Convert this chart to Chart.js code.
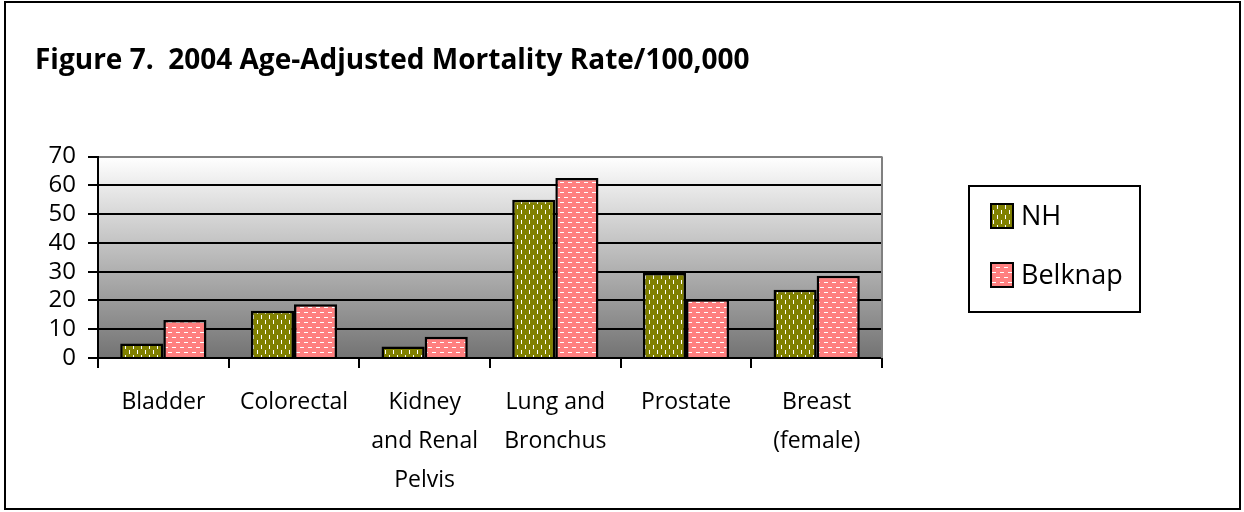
<!DOCTYPE html>
<html>
<head>
<meta charset="utf-8">
<script src="https://cdn.jsdelivr.net/npm/chart.js@4"></script>
<style>
  body { margin: 0; background: #fff; }
</style>
</head>
<body>
<canvas id="myChart" width="1244" height="512"></canvas>
<script>
// Chart Data
const categories = [
  "Bladder",
  "Colorectal",
  ["Kidney", "and Renal", "Pelvis"],
  ["Lung and", "Bronchus"],
  "Prostate",
  ["Breast", "(female)"]
];
const nhValues = [5, 16.4, 4, 55, 29.5, 23.7];
const belknapValues = [13.2, 18.7, 7.4, 62.6, 20.4, 28.6];
const yTicks = [0, 10, 20, 30, 40, 50, 60, 70];
const seriesNames = ["NH", "Belknap"];

const FONT = "'Open Sans', sans-serif";

// Fill patterns (dashes like the Excel hatch)
function makePattern(bg, vertical) {
  const c = document.createElement("canvas");
  c.width = 8;
  c.height = 10;
  const g = c.getContext("2d");
  g.fillStyle = bg;
  g.fillRect(0, 0, 8, 10);
  g.fillStyle = "#fff";
  if (vertical) {
    g.fillRect(1, 0, 1, 4);
    g.fillRect(5, 5, 1, 4);
  } else {
    g.fillRect(0, 2, 4, 1);
    g.fillRect(4, 7, 4, 1);
  }
  return g.createPattern(c, "repeat");
}
const nhFill = makePattern("#808000", true);
const belknapFill = makePattern("#ff8080", false);

// Background, frame and plot gradient
const backdrop = {
  id: "backdrop",
  beforeDraw(chart) {
    const { ctx, chartArea: a } = chart;
    ctx.save();
    ctx.fillStyle = "#fff";
    ctx.fillRect(0, 0, chart.width, chart.height);
    ctx.strokeStyle = "#000";
    ctx.lineWidth = 2;
    ctx.strokeRect(5, 2, 1235, 507);
    const grad = ctx.createLinearGradient(0, a.top, 0, a.bottom);
    grad.addColorStop(0, "#ffffff");
    grad.addColorStop(1, "#737373");
    ctx.fillStyle = grad;
    ctx.fillRect(a.left, a.top, a.right - a.left, a.bottom - a.top);
    ctx.restore();
  },
  beforeDatasetsDraw(chart) {
    const { ctx, chartArea: a } = chart;
    ctx.save();
    ctx.strokeStyle = "#808080";
    ctx.lineWidth = 2;
    ctx.beginPath();
    ctx.moveTo(a.right, a.top);
    ctx.lineTo(a.right, a.bottom);
    ctx.stroke();
    ctx.restore();
  }
};

// Boxed legend on the right
const boxLegend = {
  id: "boxLegend",
  afterDraw(chart) {
    const ctx = chart.ctx;
    ctx.save();
    ctx.strokeStyle = "#000";
    ctx.lineWidth = 2;
    ctx.strokeRect(969, 186, 171, 126);
    ctx.font = "27px " + FONT;
    ctx.textBaseline = "middle";
    chart.data.datasets.forEach((ds, i) => {
      const y = 216 + i * 59;
      ctx.fillStyle = ds.backgroundColor;
      ctx.fillRect(991, y - 12, 22, 24);
      ctx.lineWidth = 2;
      ctx.strokeRect(991, y - 12, 22, 24);
      ctx.fillStyle = "#000";
      ctx.fillText(ds.label, 1021, y + 1);
    });
    ctx.restore();
  }
};

const ctx = document.getElementById("myChart");

new Chart(ctx, {
  type: "bar",
  data: {
    labels: categories,
    datasets: [
      {
        label: seriesNames[0],
        data: nhValues,
        backgroundColor: nhFill,
        borderColor: "#000",
        borderWidth: 2.5
      },
      {
        label: seriesNames[1],
        data: belknapValues,
        backgroundColor: belknapFill,
        borderColor: "#000",
        borderWidth: 2.5
      }
    ]
  },
  options: {
    responsive: false,
    animation: false,
    datasets: {
      bar: { categoryPercentage: 0.66, barPercentage: 1.0 }
    },
    layout: { padding: { left: 35, right: 362, top: 0, bottom: 0 } },
    plugins: {
      legend: { display: false },
      tooltip: { enabled: false },
      title: {
        display: true,
        text: "Figure 7.  2004 Age-Adjusted Mortality Rate/100,000",
        align: "start",
        color: "#000",
        font: { family: FONT, size: 28, weight: "bold" },
        padding: { top: 44, bottom: 79 }
      }
    },
    scales: {
      x: {
        grid: {
          display: true,
          drawOnChartArea: false,
          drawTicks: true,
          tickLength: 10,
          color: "#000",
          lineWidth: 2,
          offset: true
        },
        border: { display: true, color: "#000", width: 2 },
        ticks: {
          color: "#000",
          font: { family: FONT, size: 23, lineHeight: 1.7 },
          padding: 15,
          maxRotation: 0,
          autoSkip: false
        },
        afterFit(s) { s.height = 154; }
      },
      y: {
        min: 0,
        max: 70,
        afterBuildTicks(s) { s.ticks = yTicks.map(v => ({ value: v })); },
        ticks: {
          color: "#000",
          font: { family: FONT, size: 24 },
          padding: 12,
          autoSkip: false
        },
        grid: {
          color: c => (c.tick && c.tick.value === 70 ? "#808080" : "#000"),
          tickColor: "#000",
          lineWidth: 2,
          tickLength: 10,
          drawTicks: true
        },
        border: { color: "#000", width: 2 },
        afterFit(s) { s.width = 63; }
      }
    }
  },
  plugins: [backdrop, boxLegend]
});
</script>
</body>
</html>
